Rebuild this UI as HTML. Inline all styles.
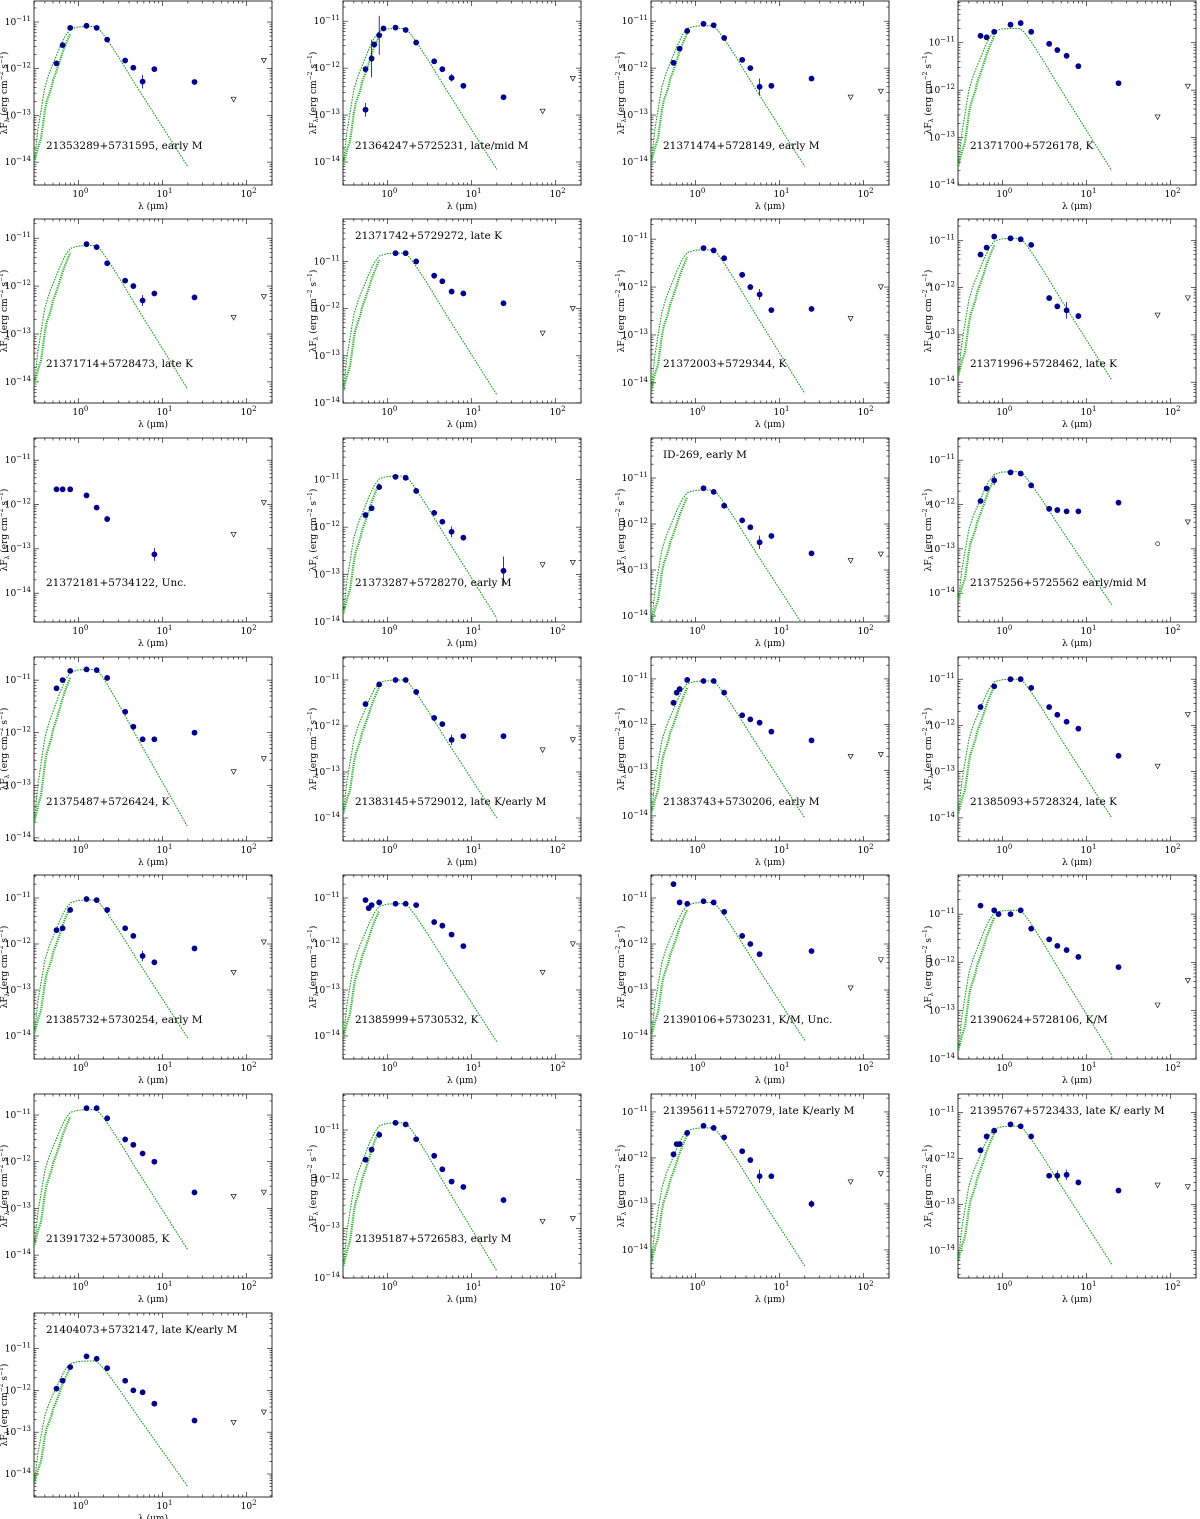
<!DOCTYPE html>
<html><head><meta charset="utf-8"><style>
html,body{margin:0;padding:0;background:#fff;}
svg{display:block;}
text{font-family:"DejaVu Serif","Liberation Serif",serif;fill:#000;}
</style></head><body>
<svg id="chart" width="1200" height="1519" viewBox="0 0 1200 1519" xmlns="http://www.w3.org/2000/svg"></svg>
<script>
// ---- data ----
const panelLabels = ["21353289+5731595, early M","21364247+5725231, late/mid M","21371474+5728149, early M","21371700+5726178, K",
"21371714+5728473, late K","21371742+5729272, late K","21372003+5729344, K","21371996+5728462, late K",
"21372181+5734122, Unc.","21373287+5728270, early M","ID-269,  early M","21375256+5725562 early/mid M",
"21375487+5726424, K","21383145+5729012, late K/early M","21383743+5730206, early M","21385093+5728324, late K",
"21385732+5730254, early M","21385999+5730532, K","21390106+5730231, K/M, Unc.","21390624+5728106, K/M",
"21391732+5730085, K","21395187+5726583, early M","21395611+5727079, late K/early M","21395767+5723433, late K/ early M",
"21404073+5732147, late K/early M"];
const labelTop = [0,0,0,0, 0,1,0,0, 0,0,1,0, 0,0,0,0, 0,0,0,0, 0,0,1,1, 1];
const yMaxLog = [-10.55,-10.57,-10.57,-10.12, -10.6,-10.1,-10.58,-10.55, -10.5,-10.12,-10.13,-10.5, -10.56,-10.5,-10.52,-10.52, -10.5,-10.5,-10.5,-10.19, -10.55,-10.27,-10.61,-10.6, -10.15];
const yMinLog = [-14.49,-14.49,-14.49,-14.0, -14.44,-14.0,-14.42,-14.44, -14.65,-14.0,-14.13,-14.65, -14.06,-14.5,-14.55,-14.5, -14.5,-14.5,-14.5,-14.0, -14.49,-14.0,-14.61,-14.6, -14.55];
const modelPeak = [8e-12,7e-12,8e-12,2e-11, 7e-12,1.5e-11,6e-12,1.1e-11, null,1.2e-11,5.5e-12,5.5e-12, 1.6e-11,1e-11,9e-12,1e-11, 9e-12,7.5e-12,8e-12,1.2e-11, 1.3e-11,1.4e-11,4.5e-12,5e-12, 5e-12];
// photometry: [wavelength um, flux, error factor]
const photometry = [
[[0.55,1.3e-12,0],[0.65,3.2e-12,0],[0.8,7.5e-12,0],[1.25,8.3e-12,0],[1.65,7.5e-12,0],[2.2,4.2e-12,0],[3.6,1.5e-12,0],[4.5,1.05e-12,0],[5.8,5.3e-13,1.4],[8,9.8e-13,0],[24,5.2e-13,0]],
[[0.55,1.3e-13,1.4],[0.55,9.5e-13,0],[0.65,1.6e-12,2.5],[0.7,3.2e-12,0],[0.8,5e-12,2.6],[0.9,7e-12,0],[1.25,7.3e-12,0],[1.65,6.5e-12,0],[2.2,3.5e-12,0],[3.6,1.4e-12,0],[4.5,9.5e-13,0],[5.8,6.2e-13,1.2],[8,4.2e-13,0],[24,2.4e-13,0]],
[[0.55,1.3e-12,0],[0.65,2.6e-12,0],[0.8,6.2e-12,0],[1.25,8.8e-12,0],[1.65,8.2e-12,0],[2.2,4.4e-12,0],[3.6,1.5e-12,0],[4.5,1e-12,0],[5.8,4e-13,1.5],[8,4.2e-13,0],[24,6e-13,0]],
[[0.55,1.4e-11,0],[0.65,1.3e-11,0],[0.8,1.7e-11,0],[1.25,2.4e-11,0],[1.65,2.6e-11,0],[2.2,1.7e-11,0],[3.6,9.5e-12,0],[4.5,7e-12,0],[5.8,5.3e-12,0],[8,3.2e-12,0],[24,1.4e-12,0]],
[[1.25,7.5e-12,0],[1.65,6.5e-12,0],[2.2,3e-12,0],[3.6,1.3e-12,0],[4.5,1e-12,0],[5.8,5e-13,1.3],[8,7e-13,0],[24,5.8e-13,0]],
[[1.25,1.5e-11,0],[1.65,1.5e-11,0],[2.2,1e-11,0],[3.6,5e-12,0],[4.5,3.8e-12,0],[5.8,2.3e-12,0],[8,2.1e-12,0],[24,1.3e-12,0]],
[[1.25,6.5e-12,0],[1.65,5.8e-12,0],[2.2,4e-12,0],[3.6,1.8e-12,0],[4.5,1e-12,0],[5.8,7e-13,1.3],[8,3.3e-13,0],[24,3.5e-13,0]],
[[0.55,5e-12,0],[0.65,7e-12,0],[0.8,1.2e-11,0],[1.25,1.1e-11,0],[1.65,1.05e-11,0],[2.2,8e-12,0],[3.6,6e-13,0],[4.5,4e-13,0],[5.8,3.3e-13,1.5],[8,2.5e-13,0]],
[[0.55,2.2e-12,0],[0.65,2.2e-12,0],[0.8,2.2e-12,0],[1.25,1.6e-12,0],[1.65,8.5e-13,0],[2.2,4.7e-13,0],[8,7.5e-14,1.4]],
[[0.55,1.8e-12,0],[0.65,2.5e-12,0],[0.8,7e-12,0],[1.25,1.15e-11,0],[1.65,1.1e-11,0],[2.2,5.8e-12,0],[3.6,2e-12,0],[4.5,1.3e-12,0],[5.8,8e-13,1.3],[8,6e-13,0],[24,1.2e-13,2]],
[[1.25,6e-12,0],[1.65,5e-12,0],[2.2,2.5e-12,0],[3.6,1.2e-12,0],[4.5,8.5e-13,0],[5.8,4e-13,1.4],[8,5.5e-13,0],[24,2.3e-13,0]],
[[0.55,1.2e-12,0],[0.65,2.3e-12,0],[0.8,3.5e-12,1.3],[1.25,5.3e-12,0],[1.65,5e-12,0],[2.2,2.7e-12,0],[3.6,8e-13,0],[4.5,7.5e-13,0],[5.8,7e-13,0],[8,7e-13,0],[24,1.1e-12,0]],
[[0.55,7e-12,0],[0.65,1e-11,0],[0.8,1.5e-11,0],[1.25,1.6e-11,0],[1.65,1.55e-11,0],[2.2,1.1e-11,0],[3.6,2.5e-12,0],[4.5,1.3e-12,0],[5.8,7.5e-13,0],[8,7.5e-13,0],[24,1e-12,0]],
[[0.55,3e-12,0],[0.8,8e-12,0],[1.25,1e-11,0],[1.65,1e-11,0],[2.2,5.5e-12,0],[3.6,1.5e-12,0],[4.5,1.1e-12,0],[5.8,5e-13,1.3],[8,6e-13,0],[24,6e-13,0]],
[[0.55,3e-12,0],[0.6,5e-12,0],[0.65,6e-12,0],[0.8,9.5e-12,0],[1.25,9e-12,0],[1.65,9e-12,0],[2.2,5e-12,0],[3.6,1.6e-12,0],[4.5,1.3e-12,0],[5.8,1.1e-12,0],[8,7e-13,0],[24,4.5e-13,0]],
[[0.55,2.5e-12,0],[0.8,7e-12,0],[1.25,1e-11,0],[1.65,1e-11,0],[2.2,6.5e-12,0],[3.6,2.5e-12,0],[4.5,1.7e-12,0],[5.8,1.2e-12,0],[8,8.5e-13,0],[24,2.2e-13,0]],
[[0.55,2e-12,0],[0.65,2.2e-12,0],[0.8,5.5e-12,0],[1.25,9.5e-12,0],[1.65,9e-12,0],[2.2,5.5e-12,0],[3.6,2.2e-12,0],[4.5,1.5e-12,0],[5.8,5.5e-13,1.3],[8,4e-13,0],[24,8e-13,0]],
[[0.55,9e-12,0],[0.6,6e-12,0],[0.65,7e-12,0],[0.8,8e-12,0],[1.25,7.5e-12,0],[1.65,7.5e-12,0],[2.2,7e-12,0],[3.6,3e-12,0],[4.5,2.5e-12,0],[5.8,1.6e-12,0],[8,9e-13,0]],
[[0.55,2e-11,0],[0.65,8e-12,0],[0.8,7.5e-12,0],[1.25,8.5e-12,0],[1.65,8e-12,0],[2.2,5e-12,0],[3.6,1.5e-12,0],[4.5,1e-12,0],[5.8,6e-13,0],[24,7e-13,0]],
[[0.55,1.5e-11,0],[0.8,1.2e-11,0],[0.9,1e-11,0],[1.25,1e-11,0],[1.65,1.2e-11,0],[2.2,5e-12,0],[3.6,3e-12,0],[4.5,2.2e-12,0],[5.8,1.8e-12,0],[8,1.3e-12,0],[24,8e-13,0]],
[[1.25,1.4e-11,0],[1.65,1.4e-11,0],[2.2,8.5e-12,0],[3.6,3e-12,0],[4.5,2.3e-12,0],[5.8,1.5e-12,0],[8,1e-12,0],[24,2.2e-13,0]],
[[0.55,2.5e-12,0],[0.65,4e-12,0],[0.8,8e-12,0],[1.25,1.4e-11,0],[1.65,1.3e-11,0],[2.2,6.5e-12,0],[3.6,3e-12,0],[4.5,1.6e-12,0],[5.8,9e-13,0],[8,7e-13,0],[24,3.8e-13,0]],
[[0.55,1.2e-12,0],[0.6,2e-12,0],[0.65,2e-12,0],[0.8,3.5e-12,0],[1.25,5e-12,0],[1.65,4.5e-12,0],[2.2,2.8e-12,0],[3.6,1.4e-12,0],[4.5,9e-13,0],[5.8,4e-13,1.4],[8,4e-13,0],[24,1e-13,1.2]],
[[0.55,1.5e-12,0],[0.65,3e-12,0],[0.8,4e-12,0],[1.25,5.5e-12,0],[1.65,5e-12,0],[2.2,3e-12,0],[3.6,4.2e-13,0],[4.5,4.2e-13,1.3],[5.8,4.4e-13,1.3],[8,3e-13,0],[24,2e-13,0]],
[[0.55,1.1e-12,0],[0.65,1.7e-12,0],[0.8,3.6e-12,0],[1.25,6.5e-12,0],[1.65,5.7e-12,0],[2.2,3.4e-12,0],[3.6,1.7e-12,0],[4.5,1e-12,0],[5.8,9e-13,0],[8,4.8e-13,0],[24,1.9e-13,0]]
];
// upper limits (70, 160 um)
const upperLimits = [
[[70,2.2e-13],[160,1.5e-12]],[[70,1.2e-13],[160,6e-13]],[[70,2.4e-13],[160,3.2e-13]],[[70,2.7e-13],[160,1.2e-12]],
[[70,2.2e-13],[160,6e-13]],[[70,3e-13],[160,1e-12]],[[70,2.2e-13],[160,1e-12]],[[70,2.6e-13],[160,6e-13]],
[[70,2.1e-13],[160,1.1e-12]],[[70,1.6e-13],[160,1.8e-13]],[[70,1.6e-13],[160,2.2e-13]],[[160,4e-13]],
[[70,1.8e-13],[160,3.2e-13]],[[70,3e-13],[160,5e-13]],[[70,2e-13],[160,2.2e-13]],[[70,1.3e-13],[160,1.7e-12]],
[[70,2.4e-13],[160,1.1e-12]],[[70,2.4e-13],[160,1e-12]],[[70,1.1e-13],[160,4.5e-13]],[[70,1.3e-13],[160,4.2e-13]],
[[70,1.8e-13],[160,2.2e-13]],[[70,1.4e-13],[160,1.6e-13]],[[70,3e-13],[160,4.5e-13]],[[70,2.6e-13],[160,2.4e-13]],
[[70,1.7e-13],[160,3e-13]]
];
const openPoints = [[],[],[],[], [],[],[],[], [],[],[],[[70,1.3e-13]], [],[],[],[], [],[],[],[], [],[],[],[], []];
// photosphere template (relative log flux vs wavelength)
const tplWave = [0.3,0.33,0.36,0.4,0.45,0.5,0.55,0.6,0.7,0.8,0.9,1.0,1.2,1.6,1.8,2.2,3,5,10,20];
const tplRel  = [-2.9,-2.2,-1.8,-1.3,-1.0,-0.8,-0.62,-0.45,-0.2,-0.06,-0.03,-0.01,0,0,-0.07,-0.28,-0.65,-1.3,-2.15,-3.0];
const tplWave2 = [0.3,0.33,0.36,0.38,0.4,0.42,0.45,0.48,0.5,0.55,0.6,0.65,0.7,0.8];
const tplRel2  = [-2.9,-2.6,-2.4,-2.1,-1.8,-1.6,-1.45,-1.3,-1.15,-0.95,-0.75,-0.55,-0.4,-0.15];
const xTickVals = [1,10,100];
const xTickLabels = ["0","1","2"];

// ---- layout ----
const NS="http://www.w3.org/2000/svg";
const svg=document.getElementById('chart');
const colX=[34,343,651,958], rowY=[1,219,438,657,875,1094,1313];
const W=238, H=184, XMIN=Math.log10(0.297), XMAX=Math.log10(200);
function mk(tag,attrs,parent){const e=document.createElementNS(NS,tag);for(const k in attrs)e.setAttribute(k,attrs[k]);(parent||svg).appendChild(e);return e;}

panelLabels.forEach((lab,i)=>{
  const L=colX[i%4], T=rowY[Math.floor(i/4)];
  const g=mk('g',{});
  
  
  const ymin=yMinLog[i], ymax=yMaxLog[i];
  const sx=w=>L+(Math.log10(w)-XMIN)/(XMAX-XMIN)*W;
  const sy=f=>T+H-(Math.log10(f)-ymin)/(ymax-ymin)*H;
  const cp='cp'+i;
  const defs=mk('defs',{},g); const c=mk('clipPath',{id:cp},defs); mk('rect',{x:L,y:T,width:W,height:H},c);
  for(let d=-1;d<=2;d++)for(let m=1;m<10;m++){
    const v=m*Math.pow(10,d); const lv=Math.log10(v); if(lv<XMIN||lv>XMAX)continue;
    const x=sx(v), len=m===1?5:2.5;
    mk('line',{x1:x,y1:T+H,x2:x,y2:T+H-len,stroke:'#000','stroke-width':0.6},g);
    mk('line',{x1:x,y1:T,x2:x,y2:T+len,stroke:'#000','stroke-width':0.6},g);
  }
  xTickVals.forEach((v,k)=>{
    const t=mk('text',{x:sx(v)-6,y:T+H+12,'font-size':9},g);
    
    
    t.appendChild(document.createTextNode('10'));
    const s=mk('tspan',{dy:-4,'font-size':7},t); s.textContent=xTickLabels[k];
  });
  for(let d=-15;d<=-10;d++)for(let m=1;m<10;m++){
    const lv=Math.log10(m)+d; if(lv<ymin-1e-6||lv>ymax)continue;
    const y=sy(m*Math.pow(10,d)), len=m===1?5:2.5;
    mk('line',{x1:L,y1:y,x2:L+len,y2:y,stroke:'#000','stroke-width':0.6},g);
    mk('line',{x1:L+W,y1:y,x2:L+W-len,y2:y,stroke:'#000','stroke-width':0.6},g);
    if(m===1){
      const t=mk('text',{x:L-3,y:y+3,'font-size':9,'text-anchor':'end'},g);
      
      
      t.appendChild(document.createTextNode('10'));
      const s=mk('tspan',{dy:-4,'font-size':7},t); s.textContent='−'+String(-d);
    }
  }
  mk('rect',{x:L,y:T,width:W,height:H,fill:'none',stroke:'#000','stroke-width':0.8},g);
  const xl=mk('text',{x:L+W/2,y:T+H+24,'font-size':9,'text-anchor':'middle'},g);
  
  
  xl.textContent='λ (μm)';
  const yl=mk('text',{x:0,y:0,'font-size':9,'text-anchor':'middle',transform:`translate(${L-27},${T+H/2}) rotate(-90)`},g);
  
  
  yl.appendChild(document.createTextNode('λF'));
  const sb=mk('tspan',{dy:2,'font-size':6},yl); sb.textContent='λ';
  const r1=mk('tspan',{dy:-2},yl); r1.textContent=' (erg cm';
  const sp=mk('tspan',{dy:-4,'font-size':6},yl); sp.textContent='−2';
  const r2=mk('tspan',{dy:4},yl); r2.textContent=' s';
  const sp2=mk('tspan',{dy:-4,'font-size':6},yl); sp2.textContent='−1';
  const r3=mk('tspan',{dy:4},yl); r3.textContent=')';
  if(modelPeak[i]){
    const cg=mk('g',{'clip-path':`url(#${cp})`},g);
    const lp=Math.log10(modelPeak[i]);
    const p1=tplWave.map((w,k)=>sx(w).toFixed(1)+','+sy(Math.pow(10,lp+tplRel[k])).toFixed(1)).join(' ');
    const m1=mk('polyline',{points:p1,fill:'none',stroke:'#1f9a1f','stroke-width':1.1,'stroke-dasharray':'1.6,1.2'},cg);
    
    
    const p2=tplWave2.map((w,k)=>sx(w).toFixed(1)+','+sy(Math.pow(10,lp+tplRel2[k])).toFixed(1)).join(' ');
    const m2=mk('polyline',{points:p2,fill:'none',stroke:'#2fae2f','stroke-width':2.2,'stroke-dasharray':'1.2,1'},cg);
    
    
  }
  photometry[i].forEach(p=>{
    const x=sx(p[0]), y=sy(p[1]);
    if(p[2]){mk('line',{x1:x,y1:sy(p[1]*p[2]),x2:x,y2:sy(p[1]/p[2]),stroke:'#00008b','stroke-width':0.8},g);}
    const c=mk('circle',{cx:x,cy:y,r:2.9,fill:'#00008b'},g);
    
    
  });
  upperLimits[i].forEach(p=>{
    const x=sx(p[0]), y=sy(p[1]);
    const tr=mk('polygon',{points:`${x-2.5},${y-2.2} ${x+2.5},${y-2.2} ${x},${y+2.4}`,fill:'none',stroke:'#000','stroke-width':0.6},g);
    
    
  });
  openPoints[i].forEach(p=>{
    const c=mk('circle',{cx:sx(p[0]),cy:sy(p[1]),r:2,fill:'none',stroke:'#000','stroke-width':0.6},g);
    
    
  });
  const lt=mk('text',{x:L+12,y:labelTop[i]?T+20:T+148,'font-size':10.5},g);
  
  
  lt.textContent=lab;
});
</script>
</body></html>
